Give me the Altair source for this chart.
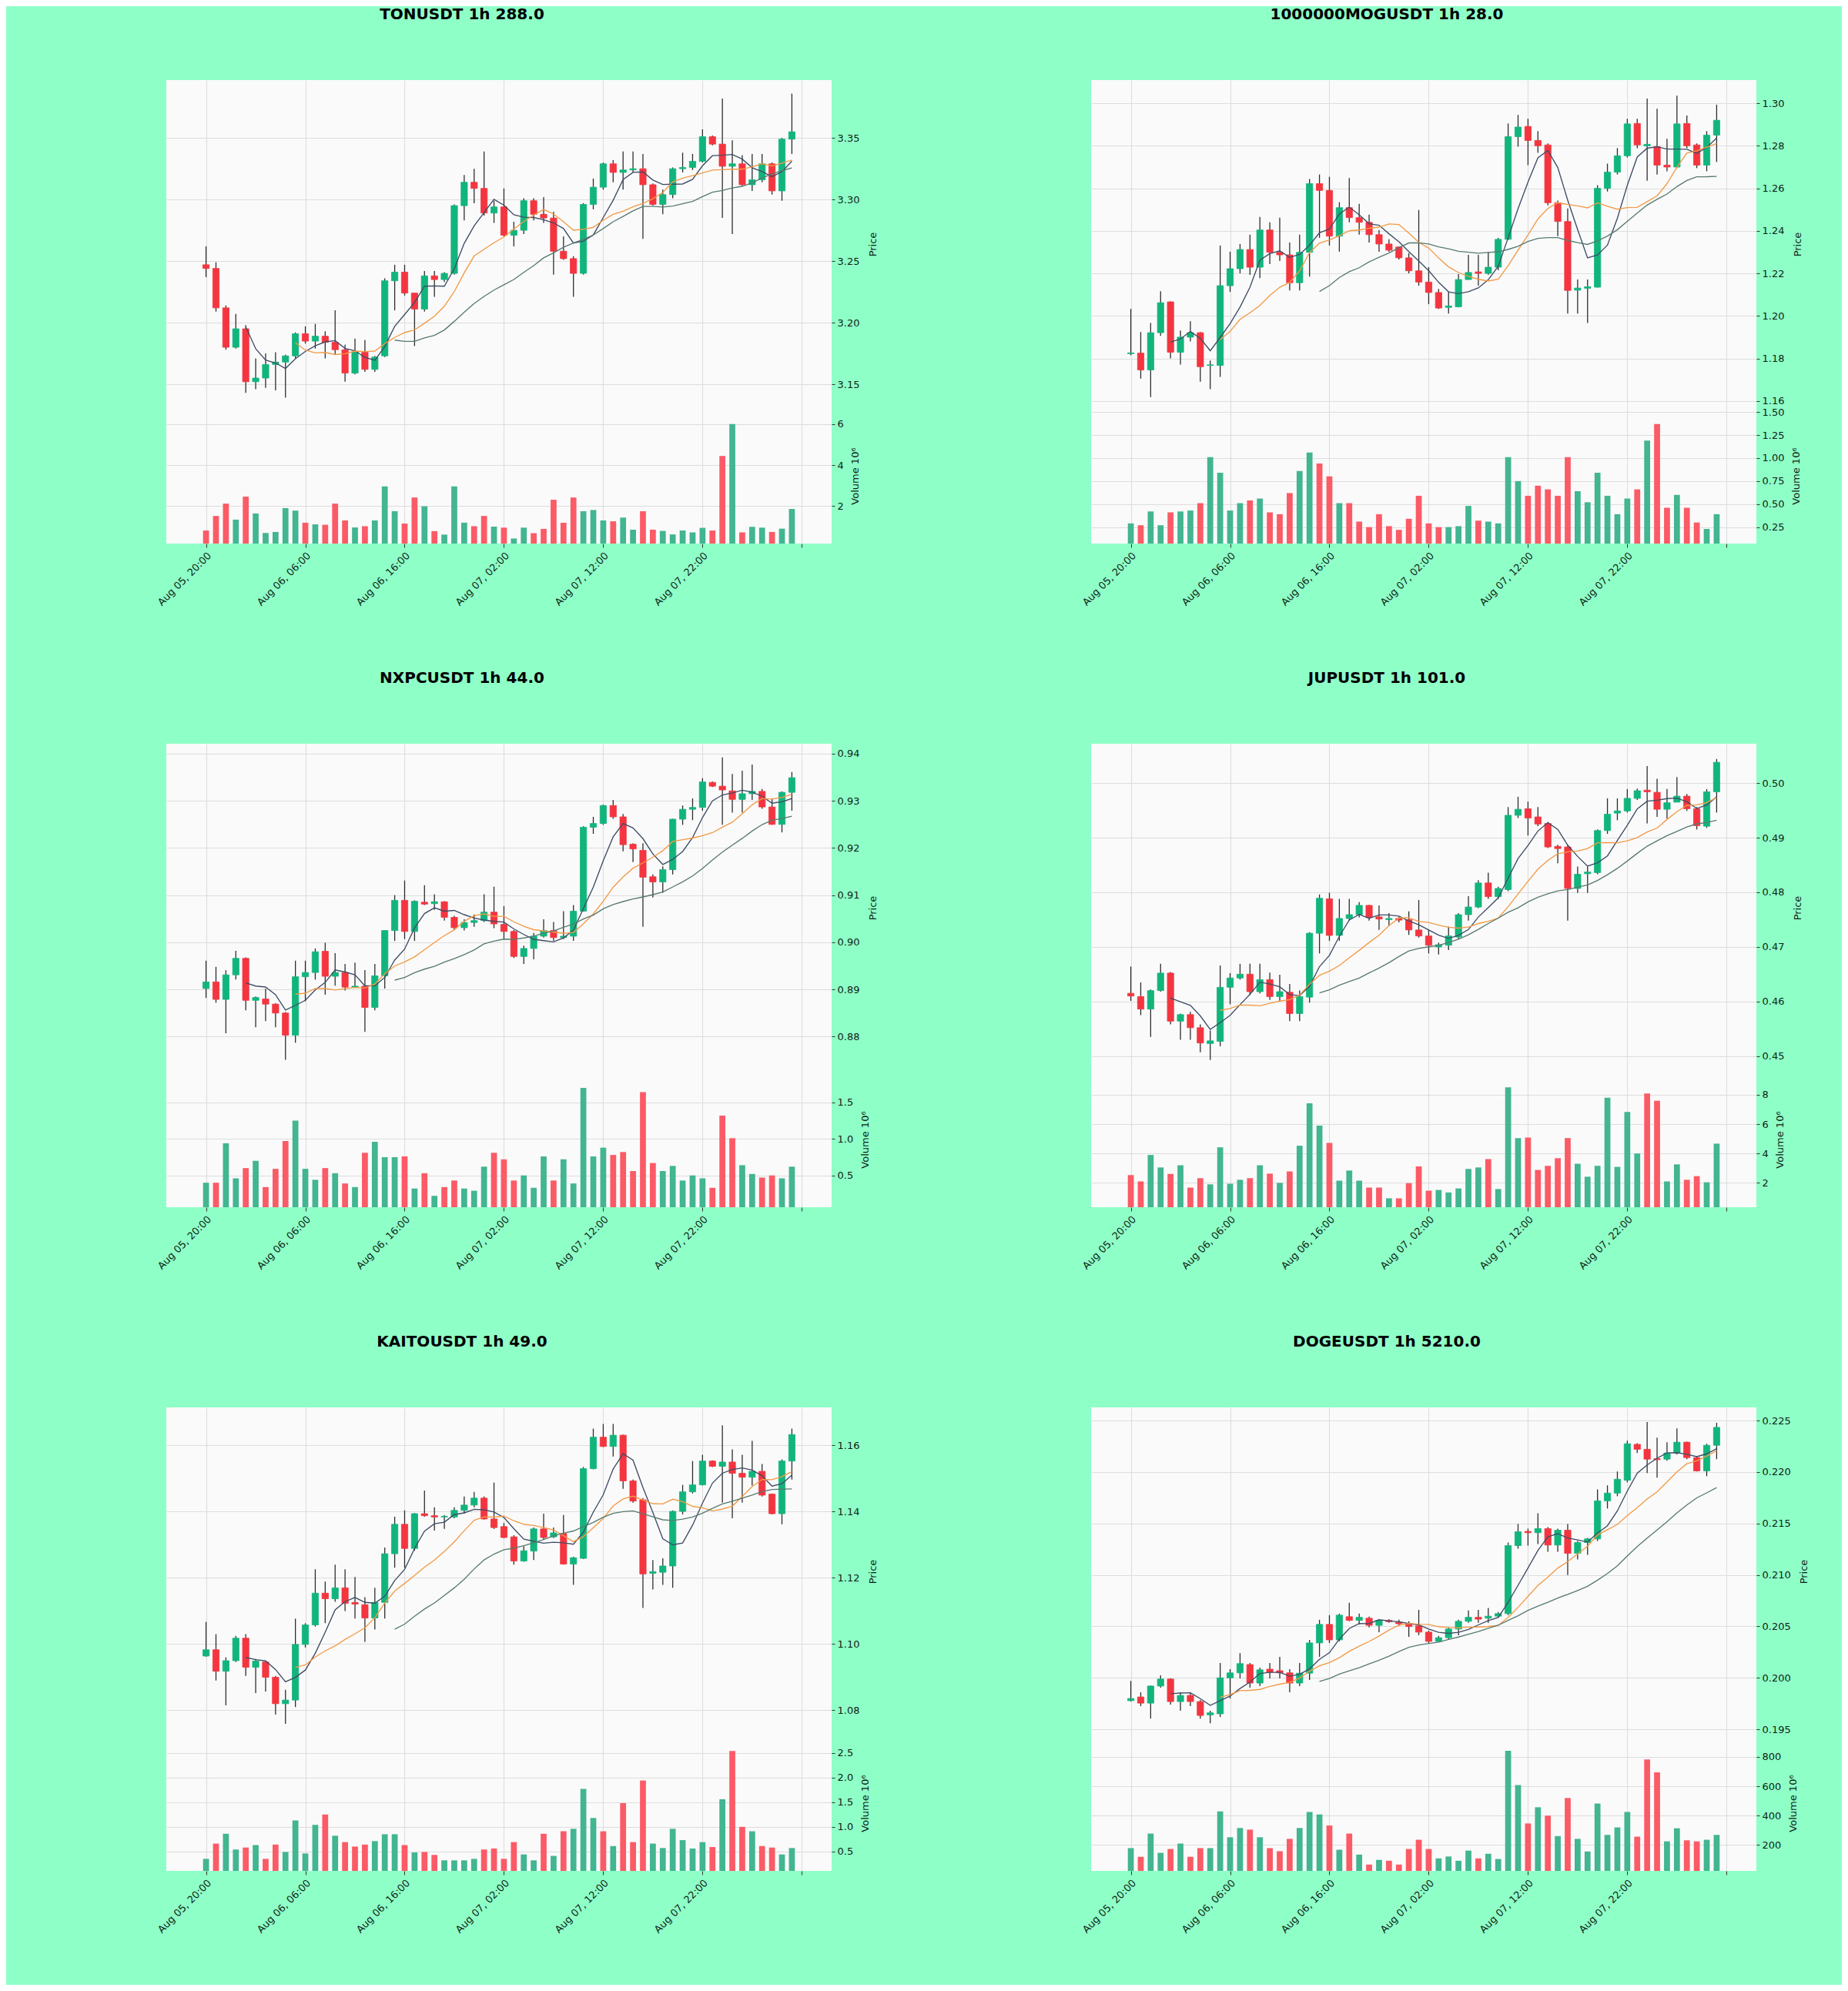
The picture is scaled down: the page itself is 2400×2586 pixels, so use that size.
import altair as alt
import pandas as pd

# ---------------- data ----------------
X_LABELS = ["Aug 05, 20:00", "Aug 06, 06:00", "Aug 06, 16:00",
            "Aug 07, 02:00", "Aug 07, 12:00", "Aug 07, 22:00"]
X_TICKS = [0, 10, 20, 30, 40, 50, 60]

TON_O = [3.247,3.244,3.212,3.180,3.195,3.152,3.155,3.166,3.168,3.173,3.191,3.185,3.189,3.184,3.178,3.159,3.176,3.162,3.173,3.234,3.241,3.224,3.211,3.238,3.235,3.240,3.295,3.314,3.309,3.289,3.294,3.271,3.275,3.299,3.288,3.285,3.258,3.252,3.240,3.296,3.310,3.329,3.322,3.324,3.325,3.312,3.296,3.304,3.325,3.326,3.331,3.351,3.345,3.327,3.329,3.312,3.316,3.329,3.307,3.349]
TON_C = [3.244,3.212,3.180,3.195,3.152,3.155,3.166,3.168,3.173,3.191,3.185,3.189,3.184,3.178,3.159,3.176,3.162,3.172,3.234,3.241,3.224,3.211,3.238,3.235,3.240,3.295,3.314,3.309,3.289,3.294,3.271,3.275,3.299,3.288,3.285,3.258,3.252,3.240,3.296,3.310,3.329,3.322,3.324,3.325,3.312,3.296,3.304,3.325,3.326,3.331,3.351,3.345,3.327,3.329,3.312,3.316,3.329,3.307,3.349,3.355]
TON_H = [3.262,3.249,3.214,3.207,3.198,3.171,3.175,3.176,3.174,3.192,3.197,3.199,3.193,3.210,3.182,3.187,3.186,3.173,3.236,3.247,3.247,3.224,3.242,3.242,3.241,3.296,3.320,3.325,3.339,3.299,3.309,3.282,3.301,3.301,3.302,3.290,3.270,3.254,3.297,3.317,3.330,3.332,3.339,3.339,3.337,3.313,3.308,3.326,3.338,3.337,3.357,3.352,3.382,3.348,3.336,3.337,3.337,3.330,3.350,3.386]
TON_L = [3.237,3.209,3.178,3.179,3.143,3.146,3.147,3.145,3.139,3.171,3.183,3.179,3.171,3.174,3.152,3.158,3.160,3.160,3.172,3.210,3.222,3.181,3.209,3.221,3.233,3.239,3.283,3.297,3.287,3.281,3.270,3.262,3.272,3.283,3.281,3.239,3.251,3.221,3.239,3.292,3.308,3.314,3.308,3.322,3.268,3.295,3.288,3.301,3.322,3.324,3.330,3.344,3.285,3.272,3.311,3.307,3.314,3.304,3.299,3.337]
TON_V = [0.81,1.52,2.12,1.34,2.46,1.64,0.69,0.74,1.90,1.78,1.19,1.11,1.09,2.12,1.30,0.96,1.02,1.30,2.96,1.75,1.15,2.42,1.99,0.78,0.61,2.96,1.19,1.02,1.52,1.00,0.95,0.42,0.95,0.68,0.89,2.31,1.19,2.42,1.75,1.81,1.30,1.26,1.44,0.85,1.75,0.85,0.79,0.62,0.81,0.72,0.94,0.81,4.44,6.00,0.72,0.99,0.95,0.74,0.90,1.86]

MOG_O = [1.1822,1.1825,1.1746,1.1921,1.2066,1.1829,1.1900,1.1921,1.1767,1.1767,1.2142,1.2222,1.2312,1.2229,1.2404,1.2299,1.2287,1.2156,1.2299,1.2622,1.2590,1.2375,1.2509,1.2462,1.2440,1.2382,1.2338,1.2324,1.2273,1.2212,1.2159,1.2110,1.2040,1.2043,1.2171,1.2207,1.2200,1.2229,1.2360,1.2843,1.2891,1.2825,1.2804,1.2532,1.2444,1.2121,1.2130,1.2135,1.2600,1.2676,1.2753,1.2905,1.2800,1.2796,1.2709,1.2700,1.2905,1.2804,1.2709,1.2850]
MOG_C = [1.1826,1.1746,1.1921,1.2062,1.1829,1.1900,1.1921,1.1761,1.1770,1.2142,1.2222,1.2312,1.2229,1.2404,1.2299,1.2287,1.2156,1.2299,1.2622,1.2590,1.2375,1.2509,1.2462,1.2440,1.2382,1.2338,1.2309,1.2273,1.2212,1.2159,1.2110,1.2037,1.2047,1.2171,1.2204,1.2200,1.2229,1.2360,1.2843,1.2888,1.2825,1.2800,1.2532,1.2444,1.2120,1.2131,1.2137,1.2600,1.2676,1.2753,1.2903,1.2804,1.2807,1.2709,1.2700,1.2903,1.2800,1.2709,1.2850,1.2920]
MOG_H = [1.2033,1.1924,1.1967,1.2116,1.2068,1.1931,1.1975,1.1924,1.1790,1.2331,1.2302,1.2338,1.2382,1.2465,1.2440,1.2462,1.2345,1.2382,1.2644,1.2665,1.2654,1.2535,1.2648,1.2527,1.2476,1.2404,1.2360,1.2326,1.2295,1.2498,1.2229,1.2127,1.2113,1.2197,1.2287,1.2287,1.2302,1.2367,1.2905,1.2945,1.2927,1.2869,1.2811,1.2542,1.2505,1.2171,1.2171,1.2615,1.2716,1.2789,1.2927,1.2927,1.3022,1.2974,1.2833,1.3036,1.2942,1.2811,1.2869,1.2993]
MOG_L = [1.1815,1.1705,1.1618,1.1906,1.1800,1.1771,1.1880,1.1691,1.1655,1.1713,1.2113,1.2200,1.2193,1.2178,1.2244,1.2258,1.2120,1.2120,1.2185,1.2367,1.2331,1.2302,1.2440,1.2382,1.2345,1.2302,1.2302,1.2265,1.2200,1.2142,1.2055,1.2033,1.2011,1.2040,1.2170,1.2142,1.2193,1.2215,1.2358,1.2796,1.2709,1.2767,1.2520,1.2375,1.2011,1.2011,1.1967,1.2133,1.2585,1.2665,1.2745,1.2789,1.2636,1.2665,1.2680,1.2695,1.2789,1.2695,1.2680,1.2724]
MOG_V = [0.29,0.27,0.42,0.27,0.41,0.42,0.43,0.51,1.01,0.84,0.43,0.51,0.54,0.56,0.41,0.39,0.62,0.86,1.06,0.94,0.80,0.51,0.51,0.31,0.25,0.39,0.26,0.22,0.34,0.59,0.29,0.25,0.25,0.26,0.48,0.32,0.31,0.29,1.01,0.75,0.59,0.70,0.66,0.59,1.01,0.64,0.52,0.84,0.59,0.39,0.56,0.66,1.19,1.37,0.46,0.60,0.46,0.30,0.23,0.39]

NXPC_O = [0.8902,0.8916,0.8879,0.8931,0.8966,0.8877,0.8880,0.8869,0.8850,0.8803,0.8927,0.8936,0.8981,0.8928,0.8936,0.8905,0.8907,0.8862,0.8929,0.9025,0.9089,0.9023,0.9085,0.9082,0.9086,0.9053,0.9031,0.9042,0.9046,0.9064,0.9038,0.9023,0.8970,0.8987,0.9013,0.9025,0.9010,0.9013,0.9066,0.9244,0.9252,0.9290,0.9266,0.9208,0.9195,0.9139,0.9128,0.9154,0.9261,0.9282,0.9286,0.9339,0.9331,0.9321,0.9303,0.9315,0.9320,0.9287,0.9250,0.9318]
NXPC_C = [0.8916,0.8879,0.8931,0.8966,0.8877,0.8883,0.8869,0.8850,0.8803,0.8927,0.8936,0.8980,0.8928,0.8936,0.8905,0.8907,0.8862,0.8929,0.9025,0.9089,0.9023,0.9087,0.9081,0.9086,0.9053,0.9031,0.9042,0.9046,0.9064,0.9039,0.9023,0.8970,0.8987,0.9013,0.9025,0.9010,0.9013,0.9066,0.9244,0.9252,0.9290,0.9266,0.9207,0.9198,0.9138,0.9128,0.9154,0.9261,0.9282,0.9286,0.9340,0.9331,0.9323,0.9303,0.9315,0.9320,0.9287,0.9250,0.9318,0.9349]
NXPC_H = [0.8961,0.8948,0.8941,0.8982,0.8968,0.8885,0.8902,0.8871,0.8852,0.8961,0.8961,0.8987,0.8999,0.8977,0.8954,0.8957,0.8941,0.8954,0.9026,0.9100,0.9131,0.9089,0.9121,0.9102,0.9087,0.9056,0.9049,0.9059,0.9102,0.9118,0.9077,0.9026,0.8993,0.9020,0.9049,0.9043,0.9066,0.9079,0.9246,0.9266,0.9292,0.9302,0.9272,0.9210,0.9210,0.9144,0.9161,0.9262,0.9290,0.9305,0.9348,0.9341,0.9392,0.9357,0.9364,0.9377,0.9325,0.9305,0.9320,0.9361]
NXPC_L = [0.8882,0.8872,0.8807,0.8921,0.8856,0.8820,0.8833,0.8820,0.8751,0.8787,0.8875,0.8921,0.8889,0.8908,0.8898,0.8904,0.8810,0.8856,0.8902,0.9003,0.9007,0.9003,0.9079,0.9069,0.9046,0.9026,0.9025,0.9033,0.9043,0.9030,0.9007,0.8967,0.8954,0.8964,0.9010,0.9003,0.9007,0.9003,0.9065,0.9230,0.9249,0.9262,0.9193,0.9170,0.9033,0.9095,0.9105,0.9144,0.9249,0.9259,0.9279,0.9329,0.9249,0.9275,0.9275,0.9302,0.9283,0.9249,0.9233,0.9279]
NXPC_V = [0.40,0.40,0.94,0.46,0.60,0.70,0.34,0.59,0.97,1.25,0.59,0.44,0.60,0.53,0.39,0.34,0.81,0.96,0.75,0.75,0.76,0.32,0.53,0.22,0.34,0.43,0.32,0.29,0.62,0.81,0.72,0.43,0.50,0.33,0.76,0.43,0.72,0.39,1.70,0.76,0.88,0.78,0.82,0.56,1.64,0.67,0.56,0.63,0.43,0.50,0.46,0.33,1.32,1.01,0.64,0.52,0.47,0.50,0.46,0.62]

JUP_O = [0.4615,0.4609,0.4586,0.4620,0.4652,0.4564,0.4576,0.4552,0.4523,0.4527,0.4626,0.4643,0.4650,0.4618,0.4640,0.4609,0.4617,0.4578,0.4608,0.4725,0.4788,0.4721,0.4752,0.4759,0.4776,0.4755,0.4750,0.4752,0.4750,0.4731,0.4720,0.4700,0.4703,0.4718,0.4759,0.4773,0.4817,0.4792,0.4805,0.4941,0.4953,0.4938,0.4926,0.4884,0.4883,0.4807,0.4834,0.4836,0.4913,0.4945,0.4949,0.4972,0.4987,0.4983,0.4952,0.4965,0.4976,0.4953,0.4921,0.4984]
JUP_C = [0.4610,0.4586,0.4620,0.4652,0.4564,0.4576,0.4552,0.4524,0.4528,0.4626,0.4643,0.4650,0.4618,0.4640,0.4609,0.4618,0.4578,0.4609,0.4725,0.4789,0.4721,0.4752,0.4759,0.4776,0.4754,0.4751,0.4752,0.4749,0.4731,0.4720,0.4703,0.4704,0.4720,0.4759,0.4773,0.4817,0.4792,0.4807,0.4941,0.4952,0.4936,0.4925,0.4883,0.4880,0.4807,0.4833,0.4837,0.4913,0.4943,0.4949,0.4972,0.4986,0.4984,0.4952,0.4964,0.4976,0.4953,0.4922,0.4984,0.5038]
JUP_H = [0.4664,0.4635,0.4622,0.4669,0.4654,0.4578,0.4581,0.4558,0.4547,0.4666,0.4652,0.4669,0.4669,0.4669,0.4653,0.4649,0.4632,0.4620,0.4727,0.4796,0.4799,0.4788,0.4788,0.4782,0.4777,0.4776,0.4762,0.4755,0.4765,0.4786,0.4731,0.4708,0.4737,0.4762,0.4793,0.4822,0.4836,0.4810,0.4956,0.4975,0.4966,0.4956,0.4929,0.4887,0.4887,0.4847,0.4847,0.4915,0.4972,0.4972,0.4989,0.4990,0.5031,0.5008,0.4989,0.5011,0.4980,0.4956,0.4989,0.5044]
JUP_L = [0.4601,0.4575,0.4535,0.4618,0.4558,0.4530,0.4530,0.4507,0.4493,0.4518,0.4595,0.4640,0.4612,0.4615,0.4603,0.4601,0.4564,0.4564,0.4598,0.4688,0.4711,0.4711,0.4748,0.4754,0.4748,0.4731,0.4739,0.4745,0.4722,0.4717,0.4688,0.4686,0.4694,0.4714,0.4748,0.4771,0.4788,0.4788,0.4802,0.4936,0.4904,0.4921,0.4881,0.4853,0.4748,0.4799,0.4799,0.4833,0.4907,0.4932,0.4946,0.4969,0.4926,0.4938,0.4935,0.4966,0.4949,0.4915,0.4918,0.4946]
JUP_V = [2.53,2.10,3.90,3.05,2.61,3.20,1.68,2.32,1.90,4.42,1.94,2.21,2.32,3.20,2.63,2.00,2.78,4.53,7.41,5.89,4.72,2.15,2.84,2.15,1.68,1.68,0.95,0.95,1.98,3.12,1.47,1.52,1.35,1.62,2.95,3.05,3.62,1.58,8.50,5.05,5.09,2.88,3.16,3.68,5.05,3.30,2.42,3.16,7.79,3.09,6.82,4.00,8.08,7.58,2.10,3.26,2.21,2.46,2.04,4.67]

KAITO_O = [1.0964,1.0983,1.0918,1.0950,1.1018,1.0930,1.0946,1.0900,1.0820,1.0831,1.0999,1.1058,1.1154,1.1137,1.1170,1.1126,1.1119,1.1079,1.1126,1.1273,1.1362,1.1289,1.1394,1.1388,1.1384,1.1384,1.1404,1.1420,1.1441,1.1378,1.1355,1.1324,1.1251,1.1281,1.1348,1.1324,1.1334,1.1242,1.1259,1.1530,1.1625,1.1597,1.1631,1.1493,1.1436,1.1214,1.1217,1.1236,1.1401,1.1460,1.1481,1.1553,1.1537,1.1550,1.1516,1.1504,1.1522,1.1453,1.1394,1.1553]
KAITO_C = [1.0983,1.0918,1.0950,1.1018,1.0930,1.0949,1.0900,1.0820,1.0831,1.0999,1.1058,1.1154,1.1137,1.1170,1.1123,1.1121,1.1079,1.1126,1.1273,1.1362,1.1289,1.1394,1.1388,1.1384,1.1386,1.1404,1.1420,1.1441,1.1378,1.1352,1.1322,1.1251,1.1282,1.1348,1.1322,1.1336,1.1242,1.1261,1.1530,1.1625,1.1597,1.1631,1.1493,1.1432,1.1212,1.1219,1.1236,1.1401,1.1460,1.1481,1.1553,1.1537,1.1550,1.1516,1.1504,1.1522,1.1450,1.1394,1.1553,1.1633]
KAITO_H = [1.1067,1.1030,1.0960,1.1025,1.1030,1.0955,1.0950,1.0904,1.0862,1.1077,1.1063,1.1226,1.1189,1.1240,1.1226,1.1203,1.1142,1.1170,1.1292,1.1385,1.1404,1.1396,1.1464,1.1413,1.1390,1.1413,1.1446,1.1460,1.1446,1.1488,1.1366,1.1329,1.1296,1.1352,1.1394,1.1352,1.1390,1.1264,1.1535,1.1651,1.1665,1.1665,1.1633,1.1497,1.1441,1.1254,1.1259,1.1404,1.1481,1.1553,1.1572,1.1555,1.1661,1.1588,1.1572,1.1614,1.1544,1.1455,1.1558,1.1651]
KAITO_L = [1.0962,1.0890,1.0815,1.0946,1.0904,1.0852,1.0857,1.0787,1.0759,1.0810,1.0990,1.1053,1.1063,1.1128,1.1100,1.1077,1.1007,1.1044,1.1077,1.1231,1.1231,1.1282,1.1385,1.1343,1.1348,1.1380,1.1394,1.1413,1.1376,1.1348,1.1320,1.1240,1.1249,1.1254,1.1315,1.1320,1.1240,1.1179,1.1257,1.1528,1.1595,1.1567,1.1469,1.1427,1.1109,1.1165,1.1179,1.1170,1.1392,1.1455,1.1479,1.1535,1.1427,1.1380,1.1427,1.1479,1.1446,1.1392,1.1362,1.1497]
KAITO_V = [0.35,0.66,0.86,0.54,0.58,0.63,0.35,0.64,0.49,1.13,0.46,1.04,1.25,0.82,0.69,0.60,0.64,0.71,0.85,0.85,0.63,0.48,0.49,0.43,0.32,0.32,0.32,0.35,0.54,0.56,0.35,0.69,0.44,0.32,0.86,0.41,0.91,0.96,1.77,1.18,0.91,0.61,1.48,0.69,1.94,0.66,0.57,0.96,0.73,0.56,0.69,0.59,1.56,2.54,1.00,0.91,0.61,0.58,0.44,0.57]

DOGE_O = [0.19778,0.19814,0.19754,0.19920,0.19988,0.19769,0.19829,0.19769,0.19640,0.19650,0.20000,0.20048,0.20129,0.19949,0.20084,0.20069,0.20048,0.19949,0.20045,0.20339,0.20519,0.20369,0.20594,0.20558,0.20579,0.20510,0.20558,0.20540,0.20525,0.20504,0.20444,0.20354,0.20390,0.20474,0.20549,0.20588,0.20580,0.20599,0.20624,0.21285,0.21423,0.21410,0.21450,0.21290,0.21435,0.21210,0.21315,0.21350,0.21720,0.21795,0.21920,0.22269,0.22221,0.22130,0.22125,0.22185,0.22290,0.22140,0.22011,0.22260]
DOGE_C = [0.19799,0.19754,0.19920,0.19988,0.19769,0.19829,0.19769,0.19634,0.19660,0.20000,0.20048,0.20138,0.19949,0.20078,0.20054,0.20048,0.19949,0.20045,0.20339,0.20519,0.20369,0.20609,0.20558,0.20588,0.20510,0.20558,0.20546,0.20525,0.20498,0.20444,0.20354,0.20390,0.20474,0.20549,0.20588,0.20570,0.20599,0.20624,0.21285,0.21420,0.21410,0.21450,0.21290,0.21435,0.21210,0.21315,0.21350,0.21720,0.21795,0.21930,0.22275,0.22221,0.22125,0.22120,0.22185,0.22290,0.22140,0.22011,0.22260,0.22434]
DOGE_H = [0.19970,0.19859,0.19925,0.20024,0.19995,0.19859,0.19859,0.19784,0.19679,0.20144,0.20084,0.20240,0.20144,0.20099,0.20144,0.20204,0.20084,0.20144,0.20369,0.20564,0.20609,0.20624,0.20729,0.20624,0.20594,0.20570,0.20570,0.20564,0.20549,0.20660,0.20459,0.20408,0.20489,0.20564,0.20654,0.20660,0.20678,0.20639,0.21315,0.21495,0.21450,0.21600,0.21465,0.21450,0.21495,0.21330,0.21360,0.21831,0.21870,0.22005,0.22305,0.22281,0.22485,0.22335,0.22290,0.22425,0.22295,0.22155,0.22275,0.22479]
DOGE_L = [0.19769,0.19724,0.19604,0.19904,0.19739,0.19679,0.19724,0.19604,0.19559,0.19619,0.19799,0.19994,0.19904,0.19919,0.19994,0.19994,0.19859,0.19919,0.19979,0.20204,0.20339,0.20354,0.20549,0.20519,0.20489,0.20444,0.20534,0.20504,0.20399,0.20414,0.20339,0.20348,0.20369,0.20414,0.20534,0.20534,0.20534,0.20588,0.20609,0.21255,0.21285,0.21300,0.21225,0.21225,0.20999,0.21150,0.21195,0.21330,0.21645,0.21765,0.21900,0.22185,0.21990,0.21945,0.22110,0.22170,0.22125,0.22005,0.21960,0.22125]
DOGE_V = [179,120,278,147,173,210,120,179,179,429,253,316,305,253,179,158,242,316,425,408,333,168,278,135,67,99,93,67,173,236,173,109,122,93,162,109,141,105,842,608,347,457,400,261,520,242,156,482,269,320,425,257,783,695,225,314,232,225,236,269]

PANELS = [
    dict(title="TONUSDT 1h 288.0", o=TON_O, h=TON_H, l=TON_L, c=TON_C, v=TON_V,
         pdom=[3.130, 3.397], pticks=[3.15, 3.20, 3.25, 3.30, 3.35], pfmt=".2f",
         vdom=[0.174, 6.74], vticks=[2, 4, 6], vfmt="d"),
    dict(title="1000000MOGUSDT 1h 28.0", o=MOG_O, h=MOG_H, l=MOG_L, c=MOG_C, v=MOG_V,
         pdom=[1.1563, 1.3109], pticks=[1.16, 1.18, 1.20, 1.22, 1.24, 1.26, 1.28, 1.30], pfmt=".2f",
         vdom=[0.071, 1.535], vticks=[0.25, 0.50, 0.75, 1.00, 1.25, 1.50], vfmt=".2f"),
    dict(title="NXPCUSDT 1h 44.0", o=NXPC_O, h=NXPC_H, l=NXPC_L, c=NXPC_C, v=NXPC_V,
         pdom=[0.8724, 0.9421], pticks=[0.88, 0.89, 0.90, 0.91, 0.92, 0.93, 0.94], pfmt=".2f",
         vdom=[0.064, 1.91], vticks=[0.5, 1.0, 1.5], vfmt=".1f"),
    dict(title="JUPUSDT 1h 101.0", o=JUP_O, h=JUP_H, l=JUP_L, c=JUP_C, v=JUP_V,
         pdom=[0.4470, 0.5072], pticks=[0.45, 0.46, 0.47, 0.48, 0.49, 0.50], pfmt=".2f",
         vdom=[0.344, 9.51], vticks=[2, 4, 6, 8], vfmt="d"),
    dict(title="KAITOUSDT 1h 49.0", o=KAITO_O, h=KAITO_H, l=KAITO_L, c=KAITO_C, v=KAITO_V,
         pdom=[1.0722, 1.1715], pticks=[1.08, 1.10, 1.12, 1.14, 1.16], pfmt=".2f",
         vdom=[0.106, 2.84], vticks=[0.5, 1.0, 1.5, 2.0, 2.5], vfmt=".1f"),
    dict(title="DOGEUSDT 1h 5210.0", o=DOGE_O, h=DOGE_H, l=DOGE_L, c=DOGE_C, v=DOGE_V,
         pdom=[0.19433, 0.22628], pticks=[0.195, 0.200, 0.205, 0.210, 0.215, 0.220, 0.225], pfmt=".3f",
         vdom=[24, 941], vticks=[200, 400, 600, 800], vfmt="d"),
]

# ---------------- style ----------------
BG = "#8fffc8"
PLOT_BG = "#fafafa"
UP, DOWN = "#11b57c", "#f4353f"
VUP, VDOWN = "#42b591", "#fb5b66"
WICK = "#2e2e2e"
MA_COLORS = {5: "#3e4c66", 10: "#f39a45", 20: "#587a70"}
TXT = "#0c1f14"
FONT = "DejaVu Sans"
FS = 13

W = 864
H_PRICE = 427
H_VOL = 175
H_ALL = H_PRICE + H_VOL
XDOM = [-4, 63]

label_array = "[" + ",".join("'%s'" % s for s in X_LABELS) + "]"
label_expr = "datum.value < 60 ? %s[round(datum.value / 10)] : ''" % label_array


def text_width(s):
    w = 0.0
    for ch in s:
        w += 0.318 if ch == "." else 0.636
    return w * FS


def make_panel(p, right_pin, bottom_pin):
    n = len(p["o"])
    df = pd.DataFrame({"i": list(range(n)), "o": p["o"], "h": p["h"],
                       "l": p["l"], "c": p["c"], "v": p["v"]})
    base = alt.Chart(df)

    xs = alt.Scale(domain=XDOM, nice=False, zero=False)
    x_axis = alt.Axis(values=X_TICKS, labelExpr=label_expr, labelAngle=315,
                      labelAlign="right", labelBaseline="top", labelPadding=4,
                      tickSize=5, domain=False, grid=True, title=None)

    lo, hi = p["pdom"]
    p_full = [lo - (hi - lo) * H_VOL / H_PRICE, hi]
    vlo, vhi = p["vdom"]
    v_full = [vlo, vhi + (vhi - vlo) * H_PRICE / H_VOL]

    yp = alt.Scale(domain=p_full, nice=False, zero=False)
    yp_axis = alt.Axis(orient="right", values=p["pticks"], format=p["pfmt"], title=None,
                       grid=True, tickSize=4, labelPadding=3)
    yv = alt.Scale(domain=v_full, nice=False, zero=False)
    yv_axis = alt.Axis(orient="right", values=p["vticks"], format=p["vfmt"], title=None,
                       grid=True, tickSize=4, labelPadding=3)

    up_cond = "datum.c >= datum.o"

    wicks = base.mark_rule(strokeWidth=1.3, color=WICK).encode(
        x=alt.X("i:Q", scale=xs, axis=x_axis),
        y=alt.Y("l:Q", scale=yp, axis=yp_axis),
        y2="h:Q",
    )
    bodies = base.transform_calculate(
        x0="datum.i - 0.32", x1="datum.i + 0.32"
    ).mark_rect(strokeWidth=0.8).encode(
        x=alt.X("x0:Q", scale=xs, axis=x_axis),
        x2="x1:Q",
        y=alt.Y("o:Q", scale=yp, axis=yp_axis),
        y2="c:Q",
        fill=alt.condition(up_cond, alt.value(UP), alt.value(DOWN)),
        stroke=alt.condition(up_cond, alt.value(UP), alt.value(DOWN)),
    )
    mas = []
    for k in (5, 10, 20):
        mas.append(
            base.transform_window(
                ma="mean(c)", cnt="count()", frame=[-(k - 1), 0], sort=[alt.SortField("i")]
            ).transform_filter("datum.cnt >= %d" % k).mark_line(
                strokeWidth=1.35, color=MA_COLORS[k]
            ).encode(x=alt.X("i:Q", scale=xs, axis=x_axis),
                     y=alt.Y("ma:Q", scale=yp, axis=yp_axis))
        )
    price = alt.layer(wicks, bodies, *mas)

    vol = base.transform_calculate(
        x0="datum.i - 0.3", x1="datum.i + 0.3"
    ).mark_rect().encode(
        x=alt.X("x0:Q", scale=xs, axis=x_axis),
        x2="x1:Q",
        y=alt.Y("v:Q", scale=yv, axis=yv_axis),
        y2=alt.value(H_ALL),
        fill=alt.condition(up_cond, alt.value(VUP), alt.value(VDOWN)),
    )

    one = pd.DataFrame({"t": [p["title"]]})
    title = alt.Chart(one).mark_text(
        font=FONT, fontSize=20, fontWeight="bold", color="#000000",
        align="center", baseline="middle"
    ).encode(x=alt.value(384), y=alt.value(-85.5), text="t:N")

    plab_w = max(text_width(format(t, p["pfmt"])) for t in p["pticks"])
    vlab_w = max(text_width(format(t, p["vfmt"])) for t in p["vticks"])
    price_title = alt.Chart(one).mark_text(
        font=FONT, fontSize=FS, color=TXT, angle=270, align="center", baseline="middle"
    ).encode(x=alt.value(W + 7 + plab_w + 18), y=alt.value(H_PRICE / 2),
             text=alt.value("Price"))
    vol_title = alt.Chart(one).mark_text(
        font=FONT, fontSize=FS, color=TXT, angle=270, align="center", baseline="middle"
    ).encode(x=alt.value(W + 7 + vlab_w + 16), y=alt.value(H_PRICE + H_VOL / 2),
             text=alt.value("Volume  10\u2076"))

    pin_a = alt.Chart(one).mark_rect(opacity=0).encode(
        x=alt.value(-208), x2=alt.value(-207), y=alt.value(-96), y2=alt.value(-95))
    pin_b = alt.Chart(one).mark_rect(opacity=0).encode(
        x=alt.value(right_pin - 1), x2=alt.value(right_pin),
        y=alt.value(bottom_pin - 1), y2=alt.value(bottom_pin))

    return alt.layer(price, vol, title, price_title, vol_title, pin_a, pin_b).resolve_scale(
        y="independent"
    ).properties(width=W, height=H_ALL)


rows = []
for r in range(3):
    bottom = -96 + (862 if r < 2 else 846)
    left = make_panel(PANELS[2 * r], right_pin=-208 + 1201, bottom_pin=bottom)
    right = make_panel(PANELS[2 * r + 1], right_pin=-208 + 1183, bottom_pin=bottom)
    rows.append(alt.hconcat(left, right, spacing=0))

chart = alt.vconcat(*rows, spacing=0).properties(
    padding=0, background=BG
).configure_view(
    fill=PLOT_BG, strokeWidth=0
).configure_axis(
    labelFont=FONT, titleFont=FONT, labelFontSize=FS, titleFontSize=FS,
    labelColor=TXT, titleColor=TXT,
    gridColor="#dddddd", gridWidth=1.1, tickColor="#333333", domain=False
)

chart.save("out.html", embed_options={"renderer": "svg", "actions": False})
